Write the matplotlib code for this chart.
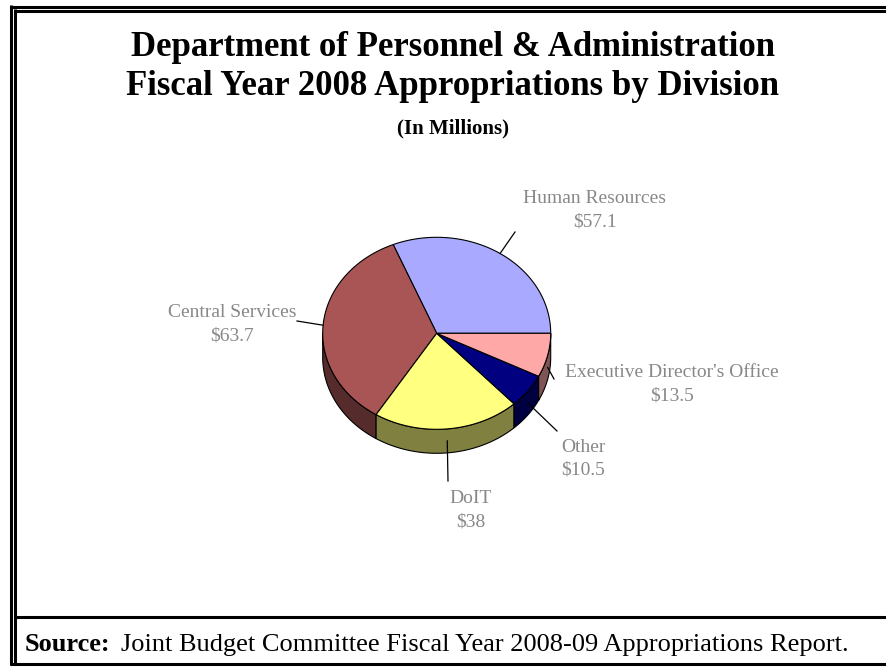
import numpy as np
import matplotlib.pyplot as plt
from matplotlib.patches import Polygon

# FY 2008 appropriations by division, $ millions (counter-clockwise from 3 o'clock)
divisions = ["Human Resources", "Central Services", "DoIT", "Other",
             "Executive Director's Office"]
amounts = [57.1, 63.7, 38, 10.5, 13.5]
top_colors = ["#a9a9ff", "#aa5555", "#ffff80", "#000080", "#ffa8a8"]

W, H = 887, 667
fig = plt.figure(figsize=(W / 100, H / 100), dpi=100)
ax = fig.add_axes([0, 0, 1, 1])
ax.set_xlim(0, W)
ax.set_ylim(H, 0)
ax.axis("off")

serif = "Liberation Serif"

# pie geometry in pixels: flattened ellipse with a thick side wall
cx, cy = 436.7, 333.3
rx, ry = 114.0, 96.0
depth = 24.0


def rim(t):
    t = np.radians(t)
    return cx + rx * np.cos(t), cy - ry * np.sin(t)


def side_color(c):
    r, g, b = plt.matplotlib.colors.to_rgb(c)
    return (r * 0.5, g * 0.5, b * 0.5)


total = sum(amounts)
edges = np.concatenate([[0], np.cumsum(amounts) / total * 360])

# outer walls: only the front half (180..360 deg) shows
for i, c in enumerate(top_colors):
    s0, s1 = max(edges[i], 180), min(edges[i + 1], 360)
    if s1 <= s0:
        continue
    t = np.linspace(s0, s1, 80)
    xs, ys = rim(t)
    pts = np.vstack([np.column_stack([xs, ys]),
                     np.column_stack([xs[::-1], ys[::-1] + depth])])
    ax.add_patch(Polygon(pts, closed=True, fc=side_color(c), ec="black", lw=0.8))

# top faces
for i, c in enumerate(top_colors):
    t = np.linspace(edges[i], edges[i + 1], 120)
    xs, ys = rim(t)
    pts = np.vstack([[cx, cy], np.column_stack([xs, ys])])
    ax.add_patch(Polygon(pts, closed=True, fc=c, ec="black", lw=0.8))

# leader lines and labels
leader_ends = [(515, 232), (297, 321), (448, 481), (557, 431), (554, 379)]
label_pos = [(595, 203), (232, 317), (471, 503), (583, 452), (672, 377)]
for i, name in enumerate(divisions):
    mid = (edges[i] + edges[i + 1]) / 2
    x0, y0 = rim(mid)
    if np.sin(np.radians(mid)) < 0:
        y0 += depth / 2
    ex, ey = leader_ends[i]
    ax.plot([x0, ex], [y0, ey], color="black", lw=0.9)
    lx, ly = label_pos[i]
    ax.text(lx, ly, name, ha="center", va="baseline", fontsize=14,
            family=serif, color="#888888")
    ax.text(lx, ly + 23, f"${amounts[i]:g}", ha="center", va="baseline",
            fontsize=14, family=serif, color="#888888")

# titles
ax.text(453, 56, "Department of Personnel & Administration", ha="center",
        va="baseline", fontsize=25, fontweight="bold", family=serif)
ax.text(453, 95, "Fiscal Year 2008 Appropriations by Division", ha="center",
        va="baseline", fontsize=25, fontweight="bold", family=serif)
ax.text(453, 133, "(In Millions)", ha="center", va="baseline", fontsize=15,
        fontweight="bold", family=serif)

# source note
src = ax.text(25, 651, "Source:", ha="left", va="baseline", fontsize=19,
              fontweight="bold", family=serif)
fig.canvas.draw()
bb = src.get_window_extent()
ax.text(bb.x1 + 10, 651, "Joint Budget Committee Fiscal Year 2008-09 Appropriations Report.",
        ha="left", va="baseline", fontsize=19, family=serif)

# double border frame and separator above the source line
lw = 2.2
ax.plot([11.3, 11.3], [5, 665], color="black", lw=lw, solid_capstyle="butt")
ax.plot([10, W], [6.5, 6.5], color="black", lw=lw, solid_capstyle="butt")
ax.plot([15.3, 15.3], [9.3, 665], color="black", lw=lw, solid_capstyle="butt")
ax.plot([14, W], [10.8, 10.8], color="black", lw=lw, solid_capstyle="butt")
ax.plot([14, W], [616.5, 616.5], color="black", lw=lw, solid_capstyle="butt")
ax.plot([10, W], [664, 664], color="black", lw=lw, solid_capstyle="butt")

fig.savefig("out.png", dpi=100)
